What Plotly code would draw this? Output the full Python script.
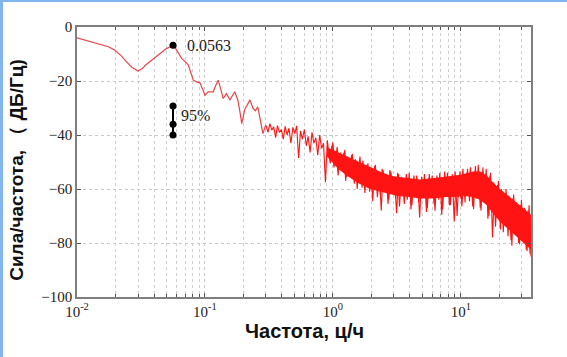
import plotly.graph_objects as go

# ---- data ----
LF_F = [0.0100, 0.0115, 0.0130, 0.0150, 0.0176, 0.0198, 0.0220, 0.0245, 0.0270, 0.0300,
        0.0320, 0.0350, 0.0400, 0.0450, 0.0500, 0.0540, 0.0563, 0.0600, 0.0657, 0.0700,
        0.0740, 0.0787, 0.0810, 0.0860, 0.0912, 0.0970, 0.1000, 0.1060, 0.1160, 0.1220,
        0.1270, 0.1330, 0.1390, 0.1470, 0.1570, 0.1710, 0.1810, 0.1880, 0.1940, 0.2050,
        0.2250, 0.2380, 0.2480, 0.2590, 0.2700, 0.2840, 0.2950]
LF_V = [-4.0, -4.8, -5.6, -6.4, -7.3, -8.6, -10.5, -13.0, -15.0, -16.3,
        -15.6, -13.8, -11.5, -9.6, -8.0, -7.2, -6.8, -8.5, -11.6, -12.8,
        -14.0, -17.8, -19.7, -20.3, -20.6, -23.5, -25.3, -24.0, -24.0, -21.5,
        -19.7, -23.0, -26.5, -24.7, -27.0, -24.0, -27.1, -31.5, -35.8, -30.5,
        -27.0, -30.2, -31.0, -29.6, -34.0, -39.5, -37.0]

HF_F = [0.300, 0.311, 0.322, 0.333, 0.345, 0.357, 0.369, 0.382, 0.396, 0.410,
        0.424, 0.439, 0.454, 0.470, 0.487, 0.504, 0.521, 0.540, 0.559, 0.578,
        0.599, 0.620, 0.641, 0.664, 0.687, 0.711, 0.736, 0.762, 0.789, 0.817,
        0.845, 0.875, 0.906, 0.938, 0.971, 1.00, 1.04, 1.08, 1.11, 1.15,
        1.19, 1.24, 1.28, 1.33, 1.37, 1.42, 1.47, 1.52, 1.58, 1.63,
        1.69, 1.75, 1.81, 1.88, 1.94, 2.01, 2.08, 2.15, 2.23, 2.31,
        2.39, 2.47, 2.56, 2.65, 2.74, 2.84, 2.94, 3.04, 3.15, 3.26,
        3.38, 3.50, 3.62, 3.75, 3.88, 4.01, 4.15, 4.30, 4.45, 4.61,
        4.77, 4.94, 5.11, 5.29, 5.48, 5.67, 5.87, 6.08, 6.29, 6.51,
        6.74, 6.98, 7.22, 7.48, 7.74, 8.01, 8.29, 8.58, 8.89, 9.20,
        9.52, 9.86, 10.2, 10.6, 10.9, 11.3, 11.7, 12.1, 12.6, 13.0,
        13.5, 13.9, 14.4, 14.9, 15.5, 16.0, 16.6, 17.1, 17.7, 18.4,
        19.0, 19.7, 20.4, 21.1, 21.8, 22.6, 23.4, 24.2, 25.1, 25.9,
        26.9, 27.8, 28.8, 29.8, 30.8, 31.9, 33.0, 34.2, 35.4]
HF_V = [-36.4, -39.0, -35.8, -38.2, -37.0, -41.0, -36.5, -39.0, -38.0, -41.5,
        -36.8, -40.0, -37.5, -43.0, -37.2, -39.5, -36.6, -48.5, -38.5, -41.5,
        -38.0, -44.0, -40.5, -46.5, -39.0, -43.0, -41.0, -47.5, -40.0, -45.0,
        -43.0, -57.5, -42.0, -48.5, -46.0, -42.8, -51.5, -44.5, -50.0, -46.5,
        -53.5, -45.5, -55.5, -48.5, -51.0, -47.0, -58.0, -49.5, -54.0, -48.0,
        -59.5, -51.5, -57.0, -50.5, -61.0, -52.5, -58.5, -51.0, -63.0, -54.5,
        -68.0, -53.0, -60.5, -55.5, -64.0, -53.5, -59.0, -56.5, -69.0, -54.5,
        -62.0, -57.0, -65.5, -54.5, -61.0, -58.0, -66.0, -55.0, -62.5, -57.0,
        -70.5, -55.5, -63.0, -58.5, -67.0, -54.5, -62.5, -57.5, -68.0, -55.0,
        -64.0, -57.0, -67.5, -53.5, -61.5, -56.5, -66.0, -54.5, -72.0, -56.0,
        -63.0, -53.5, -66.5, -55.0, -62.0, -52.5, -64.5, -54.0, -67.5, -51.5,
        -62.5, -54.5, -68.0, -52.0, -65.0, -55.5, -70.0, -54.0, -78.0, -58.5,
        -70.5, -57.0, -75.0, -61.0, -72.5, -60.0, -77.5, -63.5, -81.0, -62.0,
        -76.5, -65.5, -80.5, -64.0, -79.0, -67.5, -83.0, -66.0, -85.0]

HF2_F = [0.922, 0.954, 0.985, 1.02, 1.06, 1.10, 1.13, 1.17, 1.22, 1.26,
         1.30, 1.35, 1.40, 1.45, 1.50, 1.55, 1.60, 1.66, 1.72, 1.78,
         1.85, 1.91, 1.98, 2.05, 2.12, 2.19, 2.27, 2.35, 2.43, 2.52,
         2.61, 2.70, 2.79, 2.89, 2.99, 3.10, 3.21, 3.32, 3.44, 3.56,
         3.69, 3.82, 3.95, 4.08, 4.23, 4.38, 4.53, 4.69, 4.86, 5.03,
         5.20, 5.39, 5.58, 5.77, 5.98, 6.19, 6.40, 6.63, 6.86, 7.10,
         7.35, 7.61, 7.88, 8.15, 8.44, 8.74, 9.04, 9.36, 9.69, 10.0,
         10.4, 10.8, 11.1, 11.5, 11.9, 12.4, 12.8, 13.2, 13.7, 14.2,
         14.7, 15.2, 15.8, 16.3, 16.9, 17.4, 18.1, 18.7, 19.4, 20.1,
         20.8, 21.5, 22.2, 23.0, 23.8, 24.7, 25.5, 26.4, 27.4, 28.3,
         29.3, 30.3, 31.4, 32.5, 33.6, 34.8]
HF2_V = [-45.0, -50.5, -44.0, -52.0, -46.0, -55.0, -47.0, -51.5, -46.5, -57.0,
         -48.0, -53.5, -47.5, -56.5, -49.0, -60.0, -50.0, -55.0, -49.5, -61.5,
         -51.0, -57.5, -52.0, -64.5, -51.5, -59.0, -53.5, -62.0, -52.5, -60.5,
         -55.0, -65.5, -53.0, -61.0, -56.0, -63.5, -54.0, -66.5, -55.5, -60.5,
         -56.5, -64.0, -54.0, -67.5, -57.0, -62.5, -55.0, -65.0, -58.0, -63.0,
         -54.5, -68.5, -56.0, -62.0, -55.0, -65.5, -57.5, -63.0, -54.0, -69.5,
         -56.5, -62.5, -54.0, -66.0, -55.5, -61.5, -53.5, -70.0, -55.0, -63.5,
         -52.5, -65.0, -54.0, -61.0, -52.0, -66.5, -53.5, -63.5, -51.0, -67.0,
         -53.5, -64.0, -52.5, -71.0, -55.0, -67.5, -57.5, -74.0, -58.5, -71.5,
         -60.0, -76.0, -61.5, -73.5, -62.5, -79.0, -63.5, -75.5, -65.0, -80.0,
         -66.0, -78.5, -67.0, -82.5, -68.0, -84.0]

ENV_F = [0.9, 1.0, 1.1, 1.28, 1.6, 1.95, 2.33, 2.8, 3.15, 4.0, 4.8, 6.0, 7.7, 9.0,
         10.4, 12.5, 14.1, 16.0, 17.8, 20.2, 25.0, 28.9, 35.4]
ENV_TOP = [-44.5, -45.5, -46.5, -48, -50, -52, -53.5, -55, -55.5, -56, -56.5, -56, -55.5, -55,
           -54.5, -53.5, -53.5, -55, -57.5, -60, -63.5, -66, -69.5]
ENV_BOT = [-48, -50.5, -52.5, -55, -58, -60, -61, -62, -62.5, -63, -63.5, -63.5, -63, -63,
           -62.5, -63, -64, -66, -69, -72, -76, -78.5, -82.5]

PEAK_F, PEAK_V, PEAK_LABEL = 0.0563, -6.8, "0.0563"
CI_F = 0.0563
CI_V = [-29.3, -36.0, -40.0]
CI_LABEL = "95%"

X_TICKS = [0.01, 0.1, 1, 10]
X_TICKTEXT = ["10<sup>-2</sup>", "10<sup>-1</sup>", "10<sup>0</sup>", "10<sup>1</sup>"]
Y_TICKS = [0, -20, -40, -60, -80, -100]

MINOR_X = [m * d for d in (0.01, 0.1, 1, 10) for m in range(2, 10) if m * d <= 36]

RED = "#ff1414"
SERIF = "Liberation Serif, Times New Roman, serif"
SANS = "Liberation Sans, Arial, sans-serif"

fig = go.Figure()
fig.add_trace(go.Scatter(x=ENV_F, y=ENV_TOP, mode="lines", line=dict(width=0, color=RED),
                         hoverinfo="skip", showlegend=False))
fig.add_trace(go.Scatter(x=ENV_F, y=ENV_BOT, mode="lines", line=dict(width=0, color=RED),
                         fill="tonexty", fillcolor=RED, hoverinfo="skip", showlegend=False))
fig.add_trace(go.Scatter(x=LF_F + HF_F[:1], y=LF_V + HF_V[:1], mode="lines",
                         line=dict(color="#e8464c", width=1.2), showlegend=False))
fig.add_trace(go.Scatter(x=HF_F, y=HF_V, mode="lines",
                         line=dict(color=RED, width=1.1), showlegend=False))
fig.add_trace(go.Scatter(x=HF2_F, y=HF2_V, mode="lines",
                         line=dict(color=RED, width=1.1), showlegend=False))
# peak marker
fig.add_trace(go.Scatter(x=[PEAK_F], y=[PEAK_V], mode="markers",
                         marker=dict(color="black", size=7), showlegend=False))
# confidence bar
fig.add_trace(go.Scatter(x=[CI_F] * len(CI_V), y=CI_V, mode="lines+markers",
                         line=dict(color="black", width=2),
                         marker=dict(color="black", size=7), showlegend=False))

fig.add_annotation(x=-1.2495, y=PEAK_V, xref="x", yref="y", text=PEAK_LABEL,
                   showarrow=False, xanchor="left", xshift=12,
                   font=dict(family=SERIF, size=16, color="#222"))
fig.add_annotation(x=-1.2495, y=-32.6, xref="x", yref="y", text=CI_LABEL,
                   showarrow=False, xanchor="left", xshift=6,
                   font=dict(family=SERIF, size=16, color="#222"))

axis_common = dict(showline=True, linecolor="#7f7f7f", linewidth=1.5, mirror="allticks",
                   ticks="inside", ticklen=4, tickcolor="#555", showgrid=True,
                   gridcolor="#c9c9c9", griddash="dot", gridwidth=1, zeroline=False,
                   tickfont=dict(family=SERIF, size=15, color="#222"))

fig.update_xaxes(type="log", range=[-2, 1.549], tickmode="array", tickvals=X_TICKS,
                 ticktext=X_TICKTEXT,
                 minor=dict(tickvals=MINOR_X, showgrid=True, gridcolor="#cfcfcf",
                            griddash="dot", ticks="inside", ticklen=3, tickcolor="#555"),
                 **axis_common)
fig.update_yaxes(range=[-100, 0], tickmode="array", tickvals=Y_TICKS, **axis_common)

fig.add_annotation(x=0.5, y=-0.125, xref="paper", yref="paper", text="<b>Частота, ц/ч</b>",
                   showarrow=False, xanchor="center", yanchor="middle",
                   font=dict(family=SANS, size=20, color="#111"))
fig.add_annotation(x=-0.135, y=0.47, xref="paper", yref="paper",
                   text="<b>Сила/частота, （ ДБ/Гц)</b>", textangle=-90,
                   showarrow=False, xanchor="center", yanchor="middle",
                   font=dict(family=SANS, size=19, color="#111"))

# light-blue frame on the left and top edges of the picture
W, H, L, R, T, B = 567, 357, 77, 36, 27, 60
pw, ph = W - L - R, H - T - B
fig.add_shape(type="rect", xref="paper", yref="paper", x0=-L / pw, x1=(-L + 3) / pw,
              y0=-B / ph, y1=(ph + T) / ph, line=dict(width=0), fillcolor="#82b4ef")
fig.add_shape(type="rect", xref="paper", yref="paper", x0=-L / pw, x1=(pw + R) / pw,
              y0=(ph + T - 2) / ph, y1=(ph + T) / ph, line=dict(width=0), fillcolor="#82b4ef")

fig.update_layout(width=W, height=H, margin=dict(l=L, r=R, t=T, b=B),
                  paper_bgcolor="white", plot_bgcolor="white", showlegend=False)

fig.write_html("out.html")
